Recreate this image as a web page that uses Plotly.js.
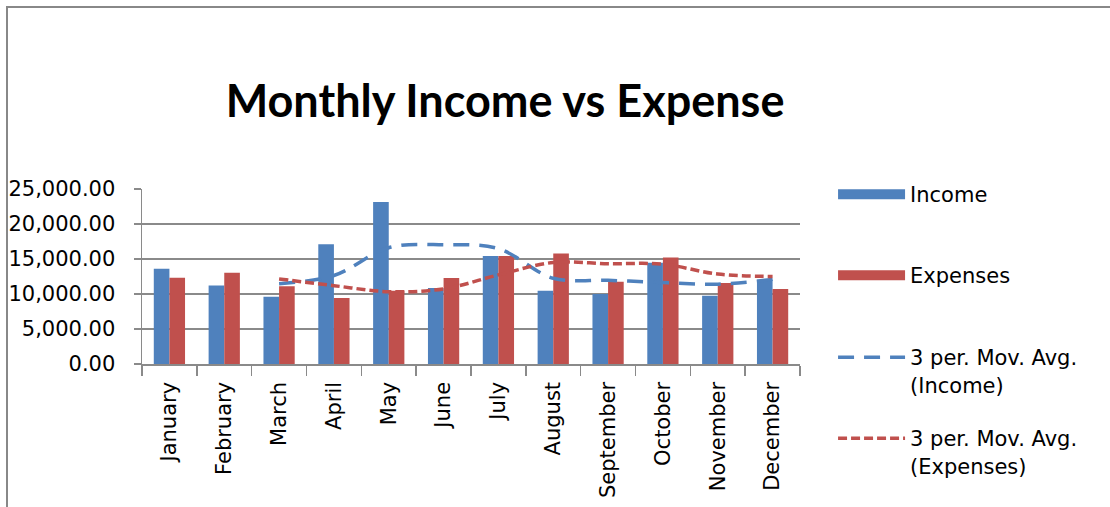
<!DOCTYPE html>
<html><head><meta charset="utf-8">
<script src="https://cdn.plot.ly/plotly-3.0.1.min.js"></script>
<style>
html,body{margin:0;padding:0;background:#fff;overflow:hidden}
#chart{position:absolute;left:0;top:0;width:1110px;height:507px}
#frame{position:absolute;left:6px;top:6px;width:1200px;height:600px;border-left:2px solid #888;border-top:2px solid #888;pointer-events:none}
</style></head><body>
<div id="chart"></div><div id="frame"></div>
<script>
const months = ["January","February","March","April","May","June","July","August","September","October","November","December"];
const income = [13610, 11230, 9610, 17090, 23140, 10860, 15420, 10470, 10000, 14470, 9760, 12040];
const expenses = [12330, 13040, 11090, 9430, 10470, 12290, 15420, 15800, 11760, 15230, 11570, 10710];
const incomeMovAvg = [null, null, 11480, 12640, 16610, 17030, 16470, 12250, 11960, 11650, 11410, 12090];
const expensesMovAvg = [null, null, 12150, 11190, 10330, 10730, 12730, 14500, 14330, 14260, 12850, 12500];
const yTicks = [0, 5000, 10000, 15000, 20000, 25000];

const blue = "#4F81BD", red = "#C0504D", grid = "#8a8a8a";
const font = "DejaVu Sans, Verdana, sans-serif";

const traces = [
  {type:"bar", x:months, y:income, name:"Income", marker:{color:blue}, showlegend:false, legendgroup:"inc"},
  {type:"bar", x:months, y:expenses, name:"Expenses", marker:{color:red}, showlegend:false, legendgroup:"exp"},
  {type:"scatter", mode:"lines", x:[null], y:[null], name:"Income", legendgroup:"inc", legend:"legend",
   line:{color:blue, width:14}, hoverinfo:"skip"},
  {type:"scatter", mode:"lines", x:[null], y:[null], name:"Expenses", legendgroup:"exp", legend:"legend2",
   line:{color:red, width:14}, hoverinfo:"skip"},
  {type:"scatter", mode:"lines", x:months, y:incomeMovAvg, name:"3 per. Mov. Avg.<br>(Income)", legendgroup:"ima", legend:"legend3",
   line:{color:blue, width:3.5, dash:"16px,10px", shape:"spline", smoothing:1}, connectgaps:false},
  {type:"scatter", mode:"lines", x:months, y:expensesMovAvg, name:"3 per. Mov. Avg.<br>(Expenses)", legendgroup:"ema", legend:"legend4",
   line:{color:red, width:3.5, dash:"9px,4px", shape:"spline", smoothing:1}, connectgaps:false}
];

function legendAt(topPx) {
  return {xref:"container", yref:"container", x:0.7505, y:1-topPx/507, xanchor:"left", yanchor:"top", valign:"top",
          font:{family:font, size:21}, itemwidth:67, bgcolor:"rgba(0,0,0,0)", maxheight:200};
}

const layout = {
  width:1110, height:507,
  margin:{l:142, r:310, t:189, b:143},
  paper_bgcolor:"#fff", plot_bgcolor:"#fff",
  font:{family:font, size:21, color:"#000"},
  title:{text:"<b>Monthly Income vs Expense</b>", xref:"container", yref:"container", x:0.455, xanchor:"center", y:0.80, yanchor:"middle",
         font:{family:"Lato, Liberation Sans Narrow, sans-serif", size:45, color:"#000"}},
  barmode:"group", bargap:0.43, bargroupgap:0,
  xaxis:{type:"category", showgrid:false, showline:true, linecolor:grid, linewidth:1.5, ticks:"outside", tickson:"boundaries",
         ticklen:10, tickcolor:grid, tickwidth:1.5, tickangle:-90, tickfont:{family:font, size:21}, ticklabelstandoff:8, fixedrange:true},
  yaxis:{range:[0,25000], tickvals:yTicks, ticktext:yTicks.map(v=>v.toLocaleString("en-US",{minimumFractionDigits:2, maximumFractionDigits:2})),
         showgrid:true, gridcolor:grid, gridwidth:1.5, showline:true, linecolor:grid, linewidth:1.5, ticks:"outside", ticklen:7,
         tickcolor:grid, tickwidth:1.5, zeroline:false, tickfont:{family:font, size:21}, ticklabelstandoff:14, fixedrange:true},
  legend:legendAt(174),
  legend2:legendAt(255),
  legend3:legendAt(337),
  legend4:legendAt(418),
  showlegend:true
};

Plotly.newPlot("chart", traces, layout, {displayModeBar:false, staticPlot:true});
</script>
</body></html>
